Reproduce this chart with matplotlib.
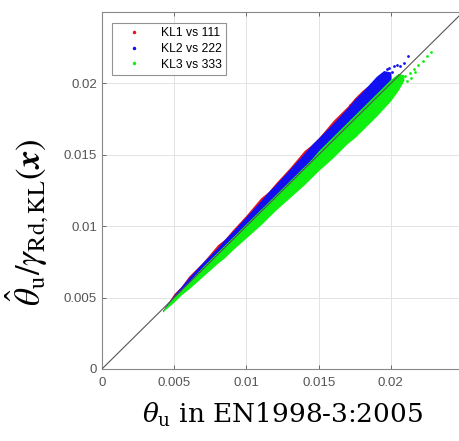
import matplotlib
matplotlib.use("Agg")
import matplotlib.pyplot as plt

plt.rcParams['font.family'] = ['Liberation Sans', 'DejaVu Sans']
plt.rcParams['mathtext.fontset'] = 'dejavuserif'

# dense band of each series: x, lower and upper edge
band_x = [0.0042, 0.0050, 0.0055, 0.0060, 0.0070, 0.0080, 0.0085, 0.0090, 0.0100, 0.0110,
          0.0115, 0.0120, 0.0130, 0.0140, 0.0145, 0.0150, 0.0160, 0.0170, 0.0175, 0.0180,
          0.0190, 0.0195, 0.0200]
red_lo = [0.0040, 0.0050, 0.0055, 0.0060, 0.0070, 0.0080, 0.0085, 0.0090, 0.0100, 0.0110,
          0.0115, 0.0120, 0.0130, 0.0140, 0.0145, 0.0150, 0.0160, 0.0170, 0.0175, 0.0180,
          0.0190, 0.0196, 0.0203]
red_hi = [0.0041, 0.0053, 0.0058, 0.0065, 0.0075, 0.0087, 0.0091, 0.0097, 0.0108, 0.0120,
          0.0124, 0.0130, 0.0141, 0.0153, 0.0157, 0.0162, 0.0174, 0.0184, 0.0190, 0.0195,
          0.0203, 0.0205, 0.0206]
blue_lo = [0.0040, 0.0050, 0.0055, 0.0060, 0.0070, 0.0080, 0.0085, 0.0090, 0.0100, 0.0110,
           0.0115, 0.0120, 0.0130, 0.0140, 0.0145, 0.0150, 0.0160, 0.0170, 0.0175, 0.0180,
           0.0190, 0.0196, 0.0203]
blue_hi = [0.0041, 0.0052, 0.0058, 0.0064, 0.0075, 0.0085, 0.0091, 0.0096, 0.0107, 0.0118,
           0.0124, 0.0129, 0.0140, 0.0151, 0.0157, 0.0162, 0.0172, 0.0183, 0.0189, 0.0194,
           0.0205, 0.0209, 0.0208]
green_x = [0.0042, 0.0050, 0.0055, 0.0060, 0.0070, 0.0080, 0.0085, 0.0090, 0.0100, 0.0110,
           0.0115, 0.0120, 0.0130, 0.0140, 0.0145, 0.0150, 0.0160, 0.0170, 0.0175, 0.0180,
           0.0190, 0.0200, 0.0205, 0.0209]
green_lo = [0.0040, 0.0047, 0.0052, 0.0056, 0.0065, 0.0074, 0.0078, 0.0083, 0.0092, 0.0101,
            0.0106, 0.0111, 0.0120, 0.0129, 0.0134, 0.0139, 0.0148, 0.0158, 0.0162, 0.0167,
            0.0177, 0.0188, 0.0195, 0.0202]
green_hi = [0.0041, 0.0051, 0.0056, 0.0061, 0.0072, 0.0082, 0.0087, 0.0092, 0.0102, 0.0112,
            0.0117, 0.0122, 0.0132, 0.0142, 0.0147, 0.0153, 0.0163, 0.0173, 0.0178, 0.0183,
            0.0193, 0.0203, 0.0207, 0.0206]

# scattered points beyond the dense band
red_px = [0.0183, 0.0186, 0.0189, 0.0192, 0.0195, 0.0178, 0.0172, 0.0198]
red_py = [0.0195, 0.0197, 0.0199, 0.0200, 0.0203, 0.0190, 0.0185, 0.0204]
blue_px = [0.0199, 0.0202, 0.0204, 0.0206, 0.0209, 0.0212, 0.0201, 0.0197]
blue_py = [0.0211, 0.0212, 0.0213, 0.0212, 0.0214, 0.0219, 0.0208, 0.0210]
green_px = [0.0207, 0.0210, 0.0213, 0.0216, 0.0219, 0.0222, 0.0225, 0.0228, 0.0211, 0.0217, 0.0214]
green_py = [0.0202, 0.0205, 0.0207, 0.0210, 0.0213, 0.0216, 0.0219, 0.0222, 0.0202, 0.0208, 0.0204]

labels = ['KL1 vs 111', 'KL2 vs 222', 'KL3 vs 333']
colors = ['#e8141e', '#1010f0', '#10f010']
ticks = [0, 0.005, 0.01, 0.015, 0.02]
tick_labels = ['0', '0.005', '0.01', '0.015', '0.02']

fig = plt.figure(figsize=(4.6, 4.41), dpi=100)
ax = fig.add_axes([0.2217, 0.1633, 0.785, 0.8095])

ax.fill_between(band_x, red_lo, red_hi, color=colors[0], lw=0, zorder=2)
ax.scatter(red_px, red_py, s=4, color=colors[0], lw=0, zorder=2)
ax.fill_between(band_x, blue_lo, blue_hi, color=colors[1], lw=0, zorder=3)
ax.scatter(blue_px, blue_py, s=4, color=colors[1], lw=0, zorder=3)
ax.fill_between(green_x, green_lo, green_hi, color=colors[2], lw=0, zorder=4)
ax.scatter(green_px, green_py, s=4, color=colors[2], lw=0, zorder=4)

ax.plot([0, 0.025], [0, 0.025], color='#555555', lw=0.8, zorder=5)

for c, lab in zip(colors, labels):
    ax.plot([], [], ls='none', marker='.', ms=3, color=c, label=lab)
leg = ax.legend(loc='upper left', fontsize=8.7, frameon=True, fancybox=False,
                edgecolor='#777777', handlelength=2.9, handletextpad=0.8,
                borderpad=0.35, labelspacing=0.3, borderaxespad=0,
                bbox_to_anchor=(0.028, 0.969))
leg.get_frame().set_linewidth(0.8)

ax.set_xlim(0, 0.025)
ax.set_ylim(0, 0.025)
ax.set_xticks(ticks)
ax.set_xticklabels(tick_labels)
ax.set_yticks(ticks)
ax.set_yticklabels(tick_labels)
ax.tick_params(direction='in', length=3, width=0.6, colors='#555555',
               labelsize=9.5, top=True, right=True, labelcolor='#555555')
ax.tick_params(axis='x', pad=6)
ax.grid(True, color='#e3e3e3', lw=0.7)
ax.set_axisbelow(True)
for sp in ax.spines.values():
    sp.set_color('#888888')
    sp.set_linewidth(0.8)

ax.set_xlabel(r'$\theta_\mathrm{u}$ in EN1998-3:2005', family='DejaVu Serif',
              fontsize=19, labelpad=8)
ax.set_ylabel(r'$\hat{\theta}_\mathrm{u}/\gamma_\mathrm{Rd,KL}(\boldsymbol{x})$',
              fontsize=25, math_fontfamily='stix')
ax.yaxis.set_label_coords(-0.141, 0.41)

fig.savefig('out.png', dpi=100)
